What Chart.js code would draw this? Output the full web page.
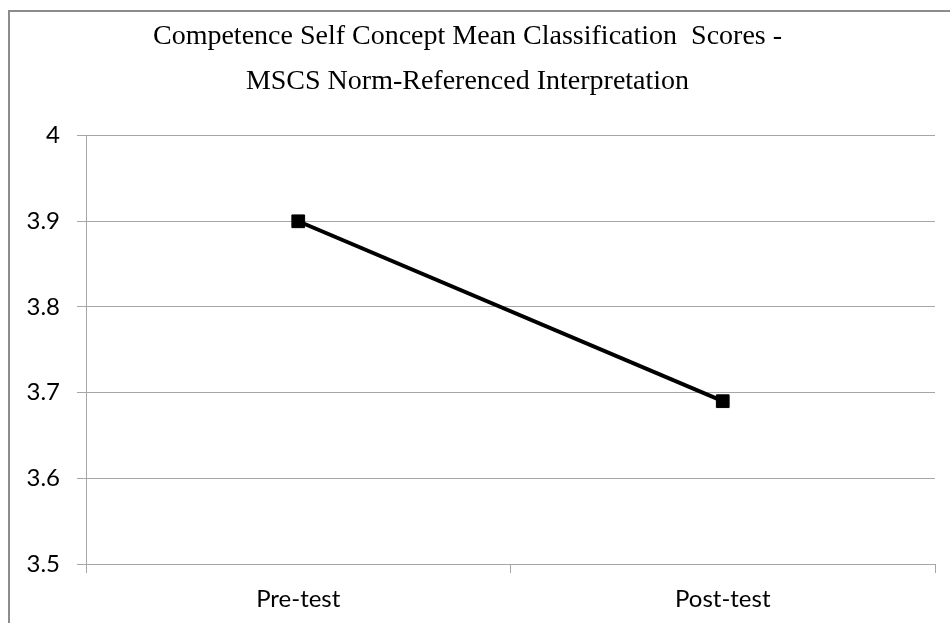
<!DOCTYPE html>
<html>
<head>
<meta charset="utf-8">
<script src="https://cdn.jsdelivr.net/npm/chart.js@4"></script>
<style>
  html, body { margin: 0; padding: 0; background: #fff; overflow: hidden; }
  #frame { position: absolute; left: 8px; top: 10px; width: 1000px; height: 700px; border: 2px solid #8c8c8c; }
  #wrap { position: absolute; left: 0; top: 0; width: 950px; height: 623px; }
</style>
</head>
<body>
<div id="frame"></div>
<div id="wrap"><canvas id="lineChart"></canvas></div>
<script>
var categories = ["Pre-test", "Post-test"];
var meanScores = [3.9, 3.69];
var yTicks = { min: 3.5, max: 4, step: 0.1 };

var gridGrey = "#a6a6a6";
var ctx = document.getElementById("lineChart");

var lineChart = new Chart(ctx, {
    type: "line",
    data: {
        labels: categories,
        datasets: [{
            label: "Mean Classification Score",
            data: meanScores,
            borderColor: "#000",
            backgroundColor: "#000",
            borderWidth: 4,
            pointStyle: "rect",
            pointRadius: 9,
            pointBorderWidth: 1,
            tension: 0
        }]
    },
    options: {
        responsive: true,
        maintainAspectRatio: false,
        animation: false,
        layout: { padding: { left: 0, right: 15, top: 0, bottom: 0 } },
        plugins: {
            legend: { display: false },
            tooltip: { enabled: false },
            title: {
                display: true,
                text: ["Competence Self Concept Mean Classification  Scores -", "MSCS Norm-Referenced Interpretation"],
                color: "#000",
                font: { family: "'Liberation Serif', serif", size: 28, weight: "normal", lineHeight: 1.6 },
                padding: { top: 14, bottom: 32 }
            }
        },
        scales: {
            x: {
                offset: true,
                grid: { drawOnChartArea: false, drawTicks: true, tickLength: 9, color: gridGrey, offset: true },
                border: { color: gridGrey, width: 1 },
                ticks: { color: "#000", font: { family: "Lato", size: 24 }, padding: 12 },
                afterFit: function(scale) { scale.height = 59; }
            },
            y: {
                min: yTicks.min,
                max: yTicks.max,
                grid: { color: gridGrey, tickLength: 9, lineWidth: 1 },
                border: { color: gridGrey, width: 1 },
                ticks: {
                    stepSize: yTicks.step,
                    color: "#000",
                    font: { family: "Lato", size: 24 },
                    padding: 17,
                    callback: function(v) { return String(+v.toFixed(1)); }
                },
                afterFit: function(scale) { scale.width = 86; }
            }
        }
    }
});
</script>
</body>
</html>
